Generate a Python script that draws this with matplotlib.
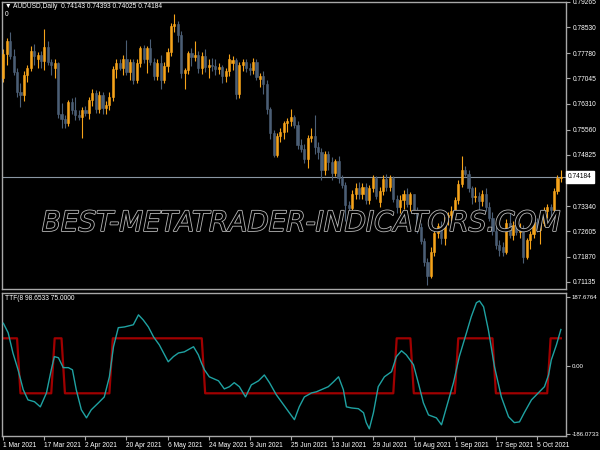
import numpy as np
import matplotlib
matplotlib.use("Agg")
import matplotlib.pyplot as plt
import matplotlib.patheffects as pe
from matplotlib import font_manager

# AUDUSD daily, 1 Mar 2021 .. 14 Oct 2021 (one value per bar)
opens = [
    # Mar
    .7707, .7776, .7812, .7770, .7722, .7665, .7655, .7715, .7735, .7785,
    .7762, .7772, .7755, .7795, .7752, .7735, .7748, .7600, .7588, .7575,
    .7635, .7612, .7598,
    # Apr
    .7592, .7612, .7603, .7642, .7662, .7615, .7655, .7618, .7628, .7650,
    .7733, .7748, .7735, .7762, .7722, .7752, .7700, .7748, .7792, .7760,
    .7792, .7752,
    # May
    .7712, .7748, .7700, .7740, .7782, .7856, .7864, .7832, .7720, .7728,
    .7778, .7768, .7772, .7735, .7770, .7738, .7745, .7740, .7732, .7738,
    .7712,
    # Jun
    .7725, .7748, .7758, .7660, .7745, .7752, .7735, .7730, .7752, .7702,
    .7712, .7688, .7615, .7545, .7482, .7538, .7548, .7575, .7580, .7592,
    .7570, .7512,
    # Jul
    .7500, .7470, .7532, .7538, .7505, .7490, .7438, .7485, .7462, .7430,
    .7465, .7415, .7395, .7338, .7328, .7370, .7385, .7368, .7390, .7352,
    .7385, .7415,
    # Aug
    .7345, .7378, .7412, .7390, .7415, .7355, .7330, .7352, .7370, .7340,
    .7368, .7322, .7272, .7232, .7172, .7132, .7200, .7255, .7275, .7240,
    .7302, .7308,
    # Sep
    .7320, .7352, .7398, .7440, .7428, .7385, .7360, .7362, .7348, .7368,
    .7332, .7300, .7262, .7222, .7215, .7200, .7285, .7250, .7280, .7258,
    .7270, .7185,
    # Oct
    .7235, .7252, .7288, .7265, .7285, .7320, .7332, .7322, .7378, .74143,
]
highs = [
    .7790, .7822, .7838, .7790, .7735, .7690, .7725, .7745, .7800, .7805,
    .7780, .7785, .7849, .7812, .7762, .7760, .7752, .7632, .7598, .7642,
    .7648, .7650, .7612,
    .7622, .7625, .7650, .7675, .7670, .7668, .7665, .7640, .7665, .7740,
    .7762, .7760, .7772, .7816, .7762, .7760, .7760, .7800, .7802, .7800,
    .7818, .7765,
    .7762, .7772, .7752, .7792, .7865, .7891, .7872, .7842, .7735, .7785,
    .7792, .7813, .7785, .7782, .7790, .7762, .7765, .7760, .7748, .7745,
    .7735,
    .7775, .7770, .7765, .7752, .7762, .7760, .7748, .7765, .7760, .7720,
    .7725, .7700, .7622, .7556, .7545, .7560, .7582, .7590, .7617, .7598,
    .7580, .7530,
    .7515, .7540, .7560, .7599, .7520, .7502, .7495, .7495, .7475, .7472,
    .7478, .7425, .7405, .7350, .7380, .7400, .7405, .7400, .7402, .7395,
    .7425, .7420,
    .7390, .7425, .7428, .7425, .7420, .7365, .7365, .7380, .7385, .7375,
    .7370, .7330, .7285, .7240, .7182, .7215, .7265, .7285, .7290, .7310,
    .7318, .7335,
    .7360, .7410, .7478, .7450, .7440, .7392, .7390, .7375, .7380, .7385,
    .7345, .7318, .7275, .7235, .7230, .7295, .7316, .7290, .7295, .7285,
    .7280, .7240,
    .7262, .7295, .7300, .7295, .7330, .7340, .7340, .7385, .7425, .74393,
]
lows = [
    .7695, .7745, .7760, .7715, .7650, .7622, .7640, .7695, .7725, .7745,
    .7735, .7735, .7730, .7745, .7715, .7705, .7590, .7562, .7562, .7565,
    .7600, .7585, .7585,
    .7532, .7595, .7588, .7625, .7605, .7605, .7600, .7602, .7612, .7640,
    .7705, .7728, .7715, .7715, .7700, .7688, .7690, .7738, .7750, .7720,
    .7745, .7700,
    .7700, .7675, .7690, .7722, .7770, .7840, .7810, .7705, .7675, .7718,
    .7740, .7755, .7720, .7718, .7722, .7705, .7725, .7715, .7718, .7690,
    .7695,
    .7712, .7730, .7645, .7648, .7725, .7722, .7715, .7718, .7700, .7680,
    .7660, .7600, .7530, .7477, .7475, .7520, .7530, .7550, .7565, .7560,
    .7500, .7490,
    .7460, .7445, .7520, .7485, .7470, .7410, .7425, .7440, .7410, .7420,
    .7402, .7385, .7290, .7290, .7315, .7355, .7355, .7355, .7340, .7340,
    .7375, .7355,
    .7330, .7365, .7378, .7378, .7345, .7315, .7315, .7325, .7330, .7320,
    .7310, .7255, .7225, .7160, .7106, .7125, .7190, .7240, .7225, .7222,
    .7280, .7290,
    .7300, .7340, .7390, .7420, .7375, .7340, .7345, .7320, .7335, .7320,
    .7290, .7250, .7210, .7190, .7190, .7195, .7240, .7235, .7250, .7240,
    .7170, .7180,
    .7210, .7240, .7260, .7225, .7275, .7300, .7300, .7315, .7370, .74025,
]
closes = [
    .7776, .7812, .7770, .7722, .7665, .7655, .7715, .7735, .7785, .7770,
    .7772, .7755, .7795, .7752, .7745, .7748, .7600, .7588, .7575, .7635,
    .7612, .7598, .7592,
    .7612, .7603, .7642, .7662, .7615, .7655, .7618, .7628, .7650, .7733,
    .7748, .7735, .7762, .7722, .7752, .7700, .7748, .7792, .7760, .7792,
    .7752, .7712,
    .7748, .7700, .7740, .7782, .7856, .7864, .7832, .7720, .7728, .7778,
    .7768, .7772, .7735, .7770, .7738, .7745, .7740, .7732, .7738, .7712,
    .7725,
    .7760, .7758, .7660, .7745, .7752, .7735, .7730, .7752, .7710, .7712,
    .7688, .7615, .7545, .7482, .7538, .7548, .7575, .7580, .7592, .7570,
    .7512, .7500,
    .7470, .7532, .7538, .7505, .7490, .7438, .7485, .7462, .7430, .7465,
    .7415, .7395, .7338, .7328, .7370, .7385, .7368, .7390, .7352, .7385,
    .7415, .7362,
    .7378, .7412, .7390, .7415, .7355, .7330, .7352, .7370, .7340, .7368,
    .7322, .7272, .7232, .7172, .7132, .7200, .7255, .7275, .7240, .7302,
    .7308, .7320,
    .7352, .7398, .7440, .7428, .7385, .7360, .7362, .7348, .7368, .7332,
    .7300, .7262, .7222, .7205, .7200, .7285, .7250, .7280, .7258, .7270,
    .7185, .7235,
    .7252, .7288, .7265, .7285, .7320, .7332, .7322, .7378, .7414, .74184,
]

header = "\u25bc AUDUSD,Daily  0.74143 0.74393 0.74025 0.74184"
last_price = 0.74184
price_ticks = [0.79265, 0.78530, 0.77780, 0.77045, 0.76310, 0.75560,
               0.74825, 0.73340, 0.72605, 0.71870, 0.71135]

date_bars = [0, 12, 24, 36, 48, 60, 72, 84, 96, 108, 120, 132, 144, 156]
date_labels = ["1 Mar 2021", "17 Mar 2021", "2 Apr 2021", "20 Apr 2021",
               "6 May 2021", "24 May 2021", "9 Jun 2021", "25 Jun 2021",
               "13 Jul 2021", "29 Jul 2021", "16 Aug 2021", "1 Sep 2021",
               "17 Sep 2021", "5 Oct 2021"]

# TTF indicator (bar position, value)
ttf_bar = [0, 1.4, 2.8, 4.3, 5.8, 7.2, 9.1, 10.8, 12.6, 14.0, 14.9, 16.1,
           17.5, 19.0, 20.2, 21.3, 22.8, 24.3, 25.7, 27.8, 29.5, 31.0, 32.2,
           33.6, 35.4, 38.0, 39.5, 40.9, 42.4, 43.9, 45.6, 48.2, 49.7, 51.2,
           52.9, 55.6, 57.0, 57.9, 58.8, 60.2, 62.9, 64.6, 66.1, 67.5, 69.0,
           70.8, 72.5, 74.6, 76.3, 77.8, 79.8, 81.9, 83.6, 85.1, 86.5, 88.0,
           90.1, 91.5, 93.0, 95.0, 96.5, 98.0, 99.4, 100.3, 101.8, 103.8,
           105.3, 106.1, 107.0, 108.2, 109.6, 111.4, 113.5, 114.9, 116.4,
           117.8, 119.9, 121.3, 122.8, 124.3, 126.6, 128.1, 129.5, 131.6,
           133.3, 135.4, 136.8, 138.3, 139.2, 140.4, 141.8, 143.6, 145.6,
           147.7, 149.4, 150.9, 152.3, 154.4, 156.4, 158.2, 159.4, 160.2,
           161.7, 163.0]
ttf_val = [116, 90, 35, -11, -65, -93, -98, -112, -74, -11, 25, 22, -5, -5,
           -11, -65, -120, -142, -120, -101, -85, -30, 52, 104, 106, 112, 139,
           125, 106, 79, 57, 11, 25, 35, 38, 52, 30, 8, -11, -30, -41, -63,
           -57, -46, -57, -85, -52, -41, -25, -46, -79, -106, -128, -147,
           -112, -85, -74, -71, -65, -57, -44, -30, -65, -112, -115, -117,
           -128, -155, -172, -128, -57, -30, -16, 25, 41, 30, 3, -46, -101,
           -134, -142, -161, -115, -46, 25, 90, 134, 172, 177, 161, 98, -3,
           -85, -139, -155, -153, -128, -93, -74, -57, -25, 16, 57, 99]

# trigger line: level and how many bars it stays there
trigger_level = [75, -75, 75, -75, 75, -75, 75, -75, 75, -75, 75]
trigger_bars = [5, 10, 3, 14, 27, 56, 5, 13, 11, 16, 4]
ttf_header = "TTF(8 98.6533 75.0000"
ttf_ticks = [187.6764, 0.0, -186.0733]
ttf_tick_labels = ["187.6764", "0.00", "-186.0733"]

UP = "#f5a31a"
DOWN = "#4b5e75"
FRAME = "#a8a8a8"
W, H = 600.0, 450.0

# small terminal-like text: a narrow face if there is one
installed = {f.name for f in font_manager.fontManager.ttflist}
if "Liberation Sans Narrow" in installed:
    SMALL = dict(family="Liberation Sans Narrow", size=5.4)
    TINY = dict(family="Liberation Sans Narrow", size=5.0)
else:
    SMALL = dict(family="Liberation Sans", size=4.8)
    TINY = dict(family="Liberation Sans", size=4.4)

fig = plt.figure(figsize=(6, 4.5), dpi=100, facecolor="black")
ax = fig.add_axes([2 / W, 1 - 289 / H, 564 / W, 287 / H], facecolor="black")
ax2 = fig.add_axes([2 / W, 1 - 436 / H, 564 / W, 143 / H], facecolor="black")

# candles
o = np.array(opens)
h = np.array(highs)
l = np.array(lows)
c = np.array(closes)
x = np.arange(len(c))
cols = [UP if cc >= oo else DOWN for oo, cc in zip(o, c)]
ax.vlines(x, l, h, colors=cols, linewidth=0.8, zorder=2)
ax.bar(x, np.abs(c - o), bottom=np.minimum(o, c), width=0.62, color=cols,
       edgecolor=cols, linewidth=0.4, zorder=3)
ax.axhline(last_price, color="#8a96a3", linewidth=0.8, zorder=1)

ax.set_xlim(-0.4, 164.5)
ax.set_ylim(0.70931, 0.79265)
ax.yaxis.tick_right()
ax.set_yticks(price_ticks)
ax.set_yticklabels(["%.5f" % t for t in price_ticks], fontdict=SMALL)
ax.tick_params(axis="y", colors=FRAME, labelcolor="white", length=3,
               width=0.8, pad=2)
ax.set_xticks([])

# watermark
ax.text(0.53, 0.23, "BEST-METATRADER-INDICATORS.COM", transform=ax.transAxes,
        ha="center", va="center", fontsize=20, style="italic",
        color="black", zorder=5,
        path_effects=[pe.withStroke(linewidth=1.2, foreground="#b8b8b8")])

# indicator window
ax2.plot(ttf_bar, ttf_val, color="#1fa2a2", linewidth=1.0, zorder=3)
trigger = np.repeat(trigger_level, trigger_bars)
ax2.plot(np.arange(len(trigger)), trigger, color="#a00000", linewidth=1.6,
         zorder=2)
ax2.set_xlim(-0.4, 164.5)
ax2.set_ylim(-191.5, 198.6)
ax2.yaxis.tick_right()
ax2.set_yticks(ttf_ticks)
ax2.set_yticklabels(ttf_tick_labels, fontdict=TINY)
ax2.tick_params(axis="y", colors=FRAME, labelcolor="white", length=3,
                width=0.8, pad=1)
ax2.set_xticks(date_bars)
ax2.set_xticklabels(date_labels, ha="left", fontdict=SMALL)
ax2.tick_params(axis="x", colors=FRAME, labelcolor="white", length=3,
                width=0.8, pad=1)

for a in (ax, ax2):
    for s in a.spines.values():
        s.set_color(FRAME)
        s.set_linewidth(1.0)

fig.text(5 / W, 1 - 6 / H, header, color="white", va="center", **SMALL)
fig.text(5 / W, 1 - 14 / H, "0", color="white", va="center", **SMALL)
fig.text(5 / W, 1 - 298 / H, ttf_header, color="white", va="center", **SMALL)
fig.text(568 / W, 1 - 177 / H, "%.5f" % last_price, color="black",
         va="center", ha="left",
         bbox=dict(boxstyle="square,pad=0.35", facecolor="white",
                   edgecolor="white"), **SMALL)

fig.savefig("out.png", dpi=100, facecolor="black")
